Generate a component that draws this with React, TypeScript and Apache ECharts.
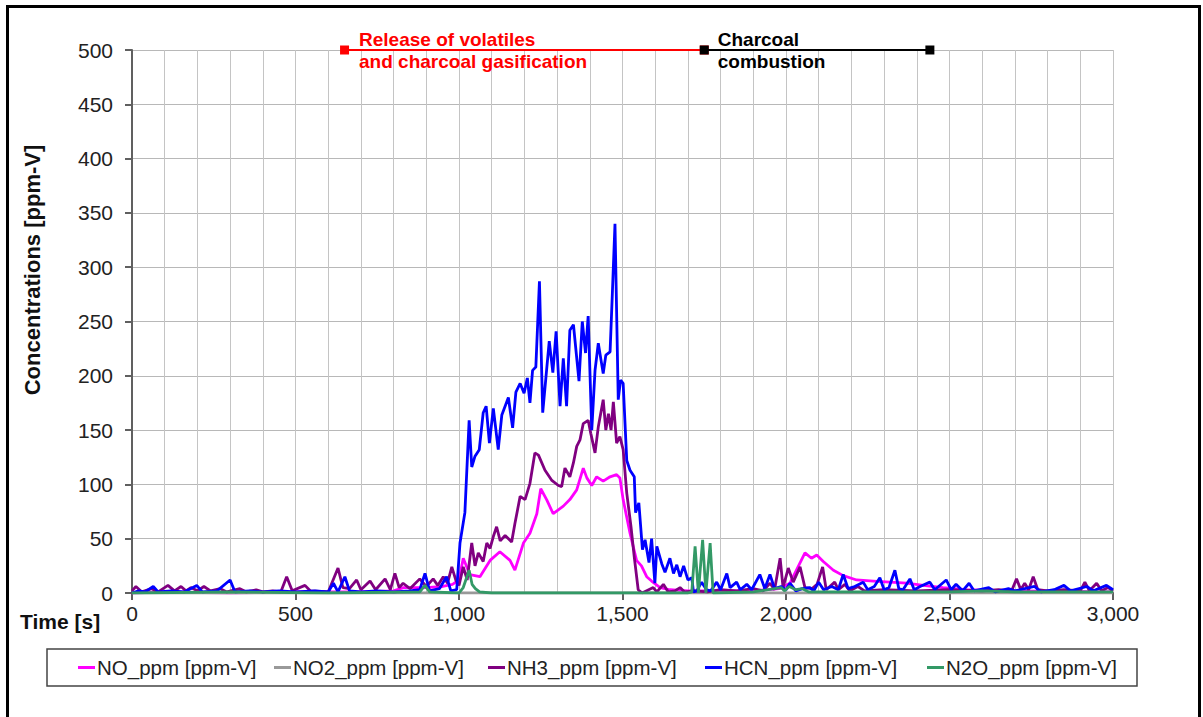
import React, { useEffect, useRef } from "react";
import * as echarts from "echarts";

// ---- data (time [s], concentration [ppm-V]) ----
const T_NO = [0, 100, 300, 500, 700, 800, 830, 900, 950, 980, 1000, 1013, 1033, 1064, 1095, 1125, 1156, 1171, 1197, 1217, 1238, 1250, 1268, 1288, 1319, 1339, 1360, 1380, 1391, 1406, 1421, 1441, 1462, 1482, 1492, 1502, 1523, 1543, 1558, 1574, 1589, 1615, 1645, 1700, 1800, 1900, 1980, 2012, 2030, 2058, 2078, 2094, 2114, 2145, 2175, 2216, 2267, 2318, 2369, 2420, 2480, 2550, 2700, 3000];
const V_NO = [0, 1, 0, 1, 1, 2, 5, 5, 6, 8, 12, 32, 17, 15, 30, 38, 30, 21, 46, 55, 73, 96, 86, 73, 80, 86, 95, 115, 106, 99, 107, 103, 107, 109, 106, 86, 55, 30, 25, 15, 11, 5, 3, 2, 2, 2, 4, 9, 20, 37, 32, 35, 29, 21, 16, 12, 11, 10, 9, 7, 5, 3, 2, 1];

const T_NO2 = [0, 3000];
const V_NO2 = [0, 0];

const T_NH3 = [0, 12, 30, 60, 80, 110, 130, 150, 165, 180, 200, 220, 240, 270, 290, 330, 350, 380, 400, 430, 455, 473, 490, 529, 545, 600, 630, 645, 665, 687, 700, 728, 745, 774, 790, 804, 817, 829, 850, 880, 900, 921, 935, 952, 965, 978, 990, 1000, 1013, 1025, 1039, 1049, 1059, 1074, 1085, 1095, 1105, 1115, 1126, 1141, 1161, 1171, 1187, 1202, 1217, 1232, 1243, 1263, 1283, 1304, 1314, 1324, 1339, 1350, 1360, 1370, 1380, 1395, 1403, 1416, 1426, 1441, 1449, 1457, 1465, 1472, 1482, 1492, 1502, 1513, 1526, 1536, 1548, 1560, 1594, 1605, 1625, 1640, 1660, 1676, 1690, 1720, 1760, 1800, 1850, 1900, 1930, 1951, 1965, 1982, 1991, 2007, 2022, 2043, 2058, 2080, 2095, 2112, 2123, 2149, 2160, 2180, 2195, 2220, 2240, 2300, 2400, 2500, 2600, 2650, 2690, 2705, 2718, 2730, 2742, 2756, 2770, 2800, 2850, 2900, 2914, 2928, 2950, 2965, 2985, 3000];
const V_NH3 = [2, 6, 1, 4, 1, 7, 2, 6, 2, 5, 2, 6, 2, 4, 1, 4, 1, 3, 1, 2, 1, 15, 2, 7, 2, 1, 23, 5, 4, 12, 3, 11, 3, 13, 3, 18, 5, 9, 4, 13, 6, 13, 7, 15, 9, 24, 12, 7, 24, 12, 46, 25, 37, 29, 46, 41, 52, 61, 48, 53, 47, 64, 89, 86, 101, 129, 127, 113, 104, 99, 98, 115, 107, 120, 135, 141, 156, 159, 147, 129, 153, 178, 150, 165, 150, 176, 138, 144, 132, 92, 61, 33, 3, 0, 5, 1, 8, 1, 2, 5, 1, 2, 1, 3, 2, 4, 2, 9, 3, 32, 5, 23, 10, 24, 5, 4, 8, 24, 3, 10, 3, 8, 2, 6, 2, 3, 2, 3, 2, 3, 2, 13, 3, 9, 3, 15, 3, 2, 3, 2, 10, 2, 9, 2, 5, 2];

const T_HCN = [0, 20, 40, 65, 80, 120, 160, 198, 215, 260, 300, 315, 360, 400, 450, 500, 560, 600, 616, 630, 651, 665, 700, 750, 800, 850, 880, 896, 910, 940, 962, 975, 993, 1003, 1018, 1031, 1039, 1049, 1062, 1074, 1083, 1093, 1105, 1120, 1131, 1151, 1164, 1174, 1187, 1199, 1209, 1217, 1225, 1235, 1246, 1256, 1266, 1276, 1287, 1297, 1309, 1319, 1329, 1339, 1350, 1367, 1377, 1387, 1395, 1406, 1416, 1426, 1441, 1449, 1462, 1469, 1477, 1487, 1494, 1502, 1513, 1523, 1536, 1540, 1550, 1561, 1569, 1581, 1589, 1599, 1605, 1620, 1630, 1645, 1656, 1666, 1676, 1687, 1700, 1712, 1717, 1727, 1742, 1757, 1770, 1788, 1800, 1819, 1829, 1849, 1860, 1880, 1895, 1920, 1935, 1951, 1965, 1985, 2000, 2012, 2030, 2050, 2073, 2085, 2100, 2115, 2140, 2160, 2175, 2190, 2210, 2236, 2250, 2270, 2287, 2300, 2315, 2333, 2345, 2358, 2379, 2392, 2410, 2440, 2455, 2490, 2505, 2520, 2540, 2560, 2575, 2620, 2640, 2680, 2700, 2760, 2780, 2820, 2850, 2870, 2920, 2940, 2980, 3000];
const V_HCN = [0, 2, 1, 6, 1, 2, 1, 7, 1, 2, 12, 1, 2, 1, 2, 1, 2, 1, 9, 1, 15, 2, 1, 2, 1, 2, 3, 18, 2, 4, 15, 2, 3, 46, 74, 159, 116, 126, 132, 166, 172, 138, 170, 132, 164, 180, 152, 185, 193, 184, 198, 175, 205, 208, 287, 166, 199, 232, 203, 241, 172, 216, 172, 242, 247, 195, 250, 221, 255, 150, 205, 230, 202, 219, 222, 276, 340, 178, 196, 193, 122, 113, 107, 74, 83, 40, 49, 28, 50, 9, 43, 27, 19, 32, 18, 26, 15, 25, 12, 14, 1, 2, 10, 3, 2, 10, 3, 18, 5, 10, 3, 8, 3, 17, 4, 17, 4, 6, 3, 9, 2, 4, 5, 2, 10, 3, 6, 3, 17, 4, 6, 10, 3, 6, 14, 3, 5, 21, 4, 3, 13, 3, 6, 10, 3, 12, 3, 8, 2, 9, 2, 5, 1, 4, 2, 6, 1, 3, 7, 2, 6, 2, 7, 3];

const T_N2O = [0, 300, 600, 880, 896, 910, 1000, 1013, 1031, 1040, 1050, 1063, 1100, 1700, 1712, 1722, 1732, 1745, 1755, 1768, 1777, 1900, 1985, 1995, 2010, 2030, 2050, 2070, 2500, 2600, 2700, 3000];
const V_N2O = [0, 1, 0, 1, 7, 1, 0, 5, 21, 8, 4, 1, 0, 0, 1, 43, 0, 49, 0, 46, 0, 1, 5, 2, 6, 3, 4, 1, 1, 2, 1, 1];

// phase annotation (time span at 500 ppm-V)
const PHASE_VOLATILES = [650, 1750];
const PHASE_CHARCOAL = [1750, 2440];
const PHASE_Y = 500;

const SERIES_NAMES = ["NO_ppm [ppm-V]", "NO2_ppm [ppm-V]", "NH3_ppm [ppm-V]", "HCN_ppm [ppm-V]", "N2O_ppm [ppm-V]"];
const SERIES_COLORS = ["#ff00ff", "#999999", "#800080", "#0000ff", "#339966"];
const LEGEND_LEFT = [78, 274, 488, 705, 927];

const pairs = (t: number[], v: number[]) => t.map((x, i) => [x, v[i]]);

export default function App() {
  const ref = useRef<HTMLDivElement>(null);
  useEffect(() => {
    if (!ref.current) return;
    const chart = echarts.init(ref.current, null, { renderer: "svg" });
    const font = "'Liberation Sans', Arial, sans-serif";
    const dataSets = [
      pairs(T_NO, V_NO),
      pairs(T_NO2, V_NO2),
      pairs(T_NH3, V_NH3),
      pairs(T_HCN, V_HCN),
      pairs(T_N2O, V_N2O),
    ];
    const lineSeries = SERIES_NAMES.map((name, i) => ({
      name,
      type: "line",
      data: dataSets[i],
      showSymbol: false,
      symbol: "none",
      color: SERIES_COLORS[i],
      lineStyle: { color: SERIES_COLORS[i], width: 2.8 },
    }));
    const phaseLabel = {
      show: true,
      position: "right",
      distance: 10,
      fontFamily: font,
      fontWeight: "bold",
      fontSize: 19,
      lineHeight: 22,
    };
    chart.setOption({
      animation: false,
      backgroundColor: "#ffffff",
      textStyle: { fontFamily: font },
      grid: { left: 132, right: 90, top: 50, bottom: 124 },
      xAxis: {
        type: "value",
        min: 0,
        max: 3000,
        interval: 500,
        axisLine: { show: true, onZero: false, lineStyle: { color: "#606060", width: 2 } },
        axisTick: { show: true, inside: false, length: 7, lineStyle: { color: "#606060", width: 2 } },
        axisLabel: {
          margin: 10,
          fontSize: 21,
          color: "#222",
          fontFamily: font,
          formatter: (v: number) => v.toLocaleString("en-US"),
        },
        splitLine: { show: true, lineStyle: { color: "#c4c4c4", width: 1 } },
        minorTick: { show: false, splitNumber: 5 },
        minorSplitLine: { show: true, lineStyle: { color: "#c4c4c4", width: 1 } },
      },
      yAxis: {
        type: "value",
        min: 0,
        max: 500,
        interval: 50,
        axisLine: { show: true, lineStyle: { color: "#606060", width: 2 } },
        axisTick: { show: true, inside: false, length: 7, lineStyle: { color: "#606060", width: 2 } },
        axisLabel: { margin: 19, fontSize: 21, color: "#222", fontFamily: font },
        splitLine: { show: true, lineStyle: { color: "#b8b8b8", width: 1 } },
      },
      legend: SERIES_NAMES.map((name, i) => ({
        data: [name],
        left: LEGEND_LEFT[i],
        top: 657,
        padding: 0,
        itemWidth: 17,
        itemHeight: 3,
        icon: "rect",
        selectedMode: false,
        textStyle: { fontSize: 20.5, color: "#222", fontFamily: font, padding: [0, 0, 0, -3] },
      })),
      graphic: [
        {
          type: "rect",
          z: -10,
          shape: { x: 47, y: 649, width: 1090, height: 37 },
          style: { fill: "#fff", stroke: "#444", lineWidth: 1.5 },
        },
        {
          type: "rect",
          z: 100,
          shape: { x: 7.5, y: 6.5, width: 1192, height: 720 },
          style: { fill: "none", stroke: "#000", lineWidth: 3 },
        },
        {
          type: "text",
          x: 20,
          y: 621,
          style: { text: "Time [s]", font: `bold 21px ${font}`, fill: "#111", verticalAlign: "middle", align: "left" },
        },
        {
          type: "text",
          x: 32,
          y: 270,
          rotation: Math.PI / 2,
          style: { text: "Concentrations [ppm-V]", font: `bold 22px ${font}`, fill: "#111", verticalAlign: "middle", align: "center" },
        },
      ],
      series: [
        ...lineSeries,
        {
          name: "phase1",
          type: "line",
          clip: false,
          data: [
            { value: [PHASE_VOLATILES[0], PHASE_Y], label: { ...phaseLabel, color: "#ff0000", formatter: "Release of volatiles\nand charcoal gasification" } },
            { value: [PHASE_VOLATILES[1], PHASE_Y] },
          ],
          symbol: "rect",
          symbolSize: 9,
          showSymbol: true,
          itemStyle: { color: "#ff0000" },
          lineStyle: { color: "#ff0000", width: 2 },
          z: 5,
        },
        {
          name: "phase2",
          type: "line",
          clip: false,
          data: [
            { value: [PHASE_CHARCOAL[0], PHASE_Y], label: { ...phaseLabel, color: "#000000", distance: 9, formatter: "Charcoal\ncombustion" } },
            { value: [PHASE_CHARCOAL[1], PHASE_Y] },
          ],
          symbol: "rect",
          symbolSize: 9,
          showSymbol: true,
          itemStyle: { color: "#000000" },
          lineStyle: { color: "#000000", width: 2 },
          z: 6,
        },
      ],
    });
    return () => chart.dispose();
  }, []);
  return (
    <div style={{ position: "fixed", left: 0, top: 0, width: 1203, height: 717, background: "#fff" }}>
      <div ref={ref} style={{ width: 1203, height: 717 }} />
    </div>
  );
}
